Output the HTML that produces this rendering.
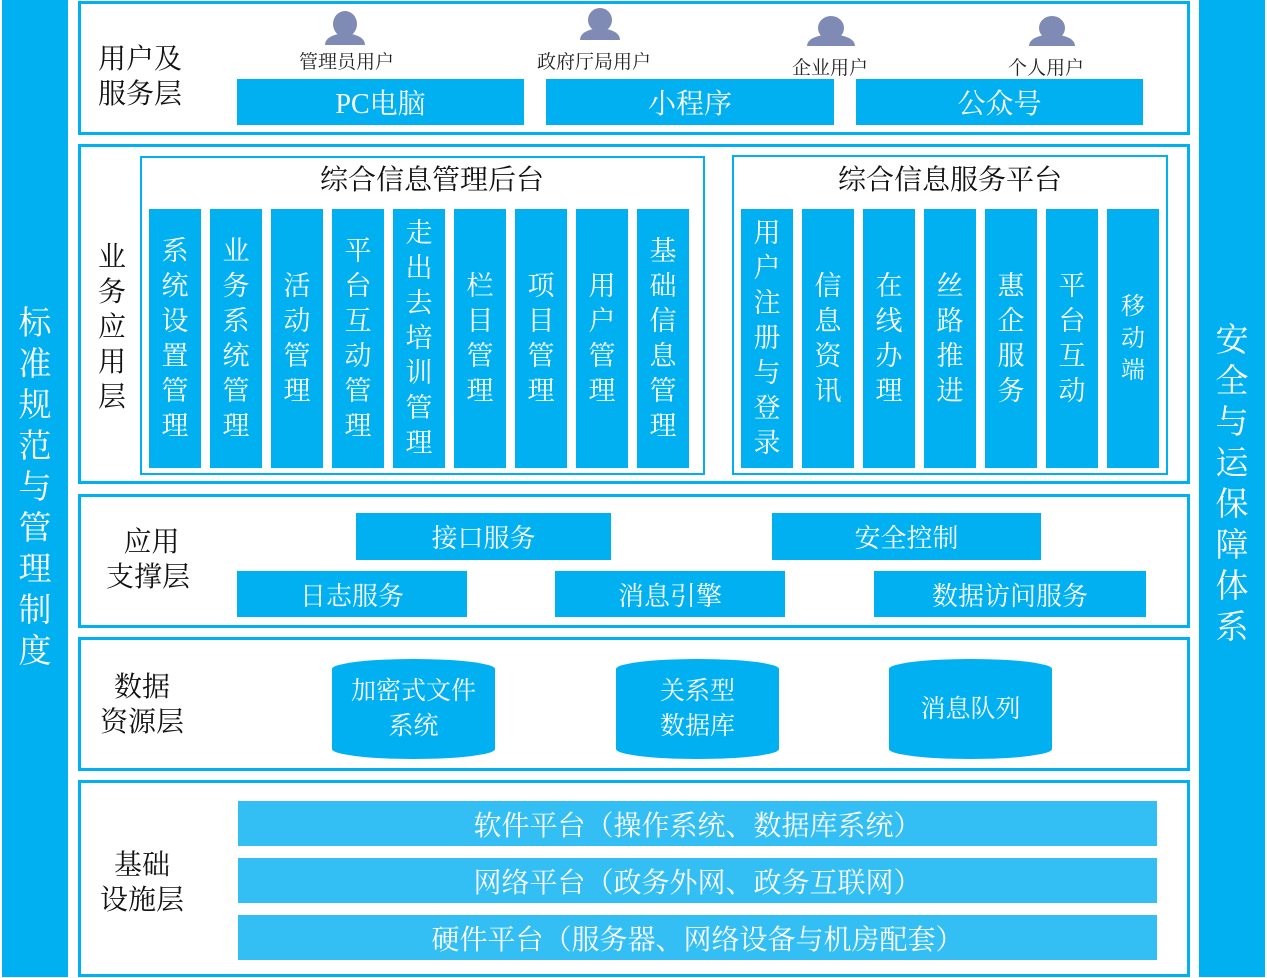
<!DOCTYPE html>
<html><head><meta charset="utf-8"><style>
*{margin:0;padding:0;box-sizing:border-box}
body{width:1267px;height:978px;background:#fff;position:relative;overflow:hidden;font-family:"Liberation Serif","Noto Serif CJK SC",serif;color:#111}
.a{position:absolute}
.b{position:absolute;background:#00B0F0;color:#fff;display:flex;align-items:center;justify-content:center;text-align:center}
.side{position:absolute;background:#00B0F0;color:#fff;display:flex;align-items:center;justify-content:center;text-align:center;font-size:33px;line-height:41px;padding:0 16px;word-break:break-all}
.fr{position:absolute;border:3px solid #00B0F0}
.fr2{position:absolute;border:2px solid #00B0F0}
.col{position:absolute;background:#00B0F0;color:#fff;display:flex;align-items:center;justify-content:center;font-size:27px;line-height:35px;width:52px;text-align:center;word-break:break-all;padding:0 12px}
.lbl{position:absolute;font-size:27px;line-height:35px}
.bar{position:absolute;background:#33BFF3;color:#fff;font-size:28px;display:flex;align-items:center;justify-content:center;left:238px;width:919px;height:45px}
.cyl{position:absolute;width:163px;height:100px;background:#00B0F0;border-radius:81px/10px;color:#fff;font-size:25px;line-height:35px;display:flex;align-items:center;justify-content:center;text-align:center}
.u{position:absolute;font-size:19px;color:#222}
</style></head><body>
<div class="side" style="left:2px;top:0;width:66px;height:977px">标准规范与管理制度</div>
<div class="side" style="left:1199px;top:0;width:66px;height:977px;padding-bottom:8px">安全与运保障体系</div>

<div class="fr" style="left:78px;top:1px;width:1112px;height:134px"></div>
<div class="lbl" style="left:98px;top:42px;font-size:28px">用户及<br>服务层</div>
<svg class="a" style="left:0;top:0" width="1267" height="50">
<g fill="#7f8bb5"><path d="M325 45 q0-10 20-12 q20 2 20 12z"/><ellipse cx="345" cy="24" rx="12" ry="13"/></g>
<g fill="#7f8bb5"><path d="M580 40 q0-10 20-12 q20 2 20 12z"/><ellipse cx="600" cy="20" rx="12" ry="12"/></g>
<g fill="#7f8bb5"><path d="M807 46 q0-10 24-12 q24 2 24 12z"/><ellipse cx="831" cy="28" rx="13" ry="12"/></g>
<g fill="#7f8bb5"><path d="M1029 46 q0-10 23-12 q23 2 23 12z"/><ellipse cx="1052" cy="28" rx="13" ry="12"/></g>
</svg>
<div class="u" style="left:299px;top:47px">管理员用户</div>
<div class="u" style="left:537px;top:47px">政府厅局用户</div>
<div class="u" style="left:792px;top:53px">企业用户</div>
<div class="u" style="left:1008px;top:53px">个人用户</div>
<div class="b" style="left:237px;top:79px;width:287px;height:46px;font-size:28px">PC电脑</div>
<div class="b" style="left:546px;top:79px;width:288px;height:46px;font-size:28px">小程序</div>
<div class="b" style="left:856px;top:79px;width:287px;height:46px;font-size:28px">公众号</div>

<div class="fr" style="left:78px;top:144px;width:1112px;height:340px"></div>
<div class="lbl" style="left:98px;top:240px;width:30px;font-size:28px">业务应用层</div>
<div class="fr2" style="left:140px;top:156px;width:565px;height:319px"></div>
<div class="a" style="left:140px;top:158px;width:592px;text-align:left;padding-left:180px;font-size:28px">综合信息管理后台</div>
<div class="fr2" style="left:732px;top:155px;width:436px;height:320px"></div>
<div class="a" style="left:732px;top:158px;width:436px;text-align:center;font-size:28px">综合信息服务平台</div>
<div class="col" style="left:149px;top:209px;height:259px">系统设置管理</div>
<div class="col" style="left:210px;top:209px;height:259px">业务系统管理</div>
<div class="col" style="left:271px;top:209px;height:259px">活动管理</div>
<div class="col" style="left:332px;top:209px;height:259px">平台互动管理</div>
<div class="col" style="left:393px;top:209px;height:259px">走出去培训管理</div>
<div class="col" style="left:454px;top:209px;height:259px">栏目管理</div>
<div class="col" style="left:515px;top:209px;height:259px">项目管理</div>
<div class="col" style="left:576px;top:209px;height:259px">用户管理</div>
<div class="col" style="left:637px;top:209px;height:259px">基础信息管理</div>
<div class="col" style="left:741px;top:209px;height:259px">用户注册与登录</div>
<div class="col" style="left:802px;top:209px;height:259px">信息资讯</div>
<div class="col" style="left:863px;top:209px;height:259px">在线办理</div>
<div class="col" style="left:924px;top:209px;height:259px">丝路推进</div>
<div class="col" style="left:985px;top:209px;height:259px">惠企服务</div>
<div class="col" style="left:1046px;top:209px;height:259px">平台互动</div>
<div class="col" style="left:1107px;top:209px;height:259px;font-size:24px;line-height:32px">移动端</div>

<div class="fr" style="left:78px;top:494px;width:1112px;height:134px"></div>
<div class="lbl" style="left:106px;top:525px;font-size:28px;text-align:center">&nbsp;应用<br>支撑层</div>
<div class="b" style="left:356px;top:513px;width:255px;height:47px;font-size:26px">接口服务</div>
<div class="b" style="left:772px;top:513px;width:269px;height:47px;font-size:26px">安全控制</div>
<div class="b" style="left:237px;top:571px;width:230px;height:46px;font-size:26px">日志服务</div>
<div class="b" style="left:555px;top:571px;width:230px;height:46px;font-size:26px">消息引擎</div>
<div class="b" style="left:874px;top:571px;width:272px;height:46px;font-size:26px">数据访问服务</div>

<div class="fr" style="left:78px;top:637px;width:1112px;height:134px"></div>
<div class="lbl" style="left:100px;top:670px;font-size:28px;text-align:center">数据<br>资源层</div>
<div class="cyl" style="left:332px;top:659px">加密式文件<br>系统</div>
<div class="cyl" style="left:616px;top:659px">关系型<br>数据库</div>
<div class="cyl" style="left:889px;top:659px">消息队列</div>

<div class="fr" style="left:78px;top:780px;width:1112px;height:197px"></div>
<div class="lbl" style="left:100px;top:848px;font-size:28px;text-align:center">基础<br>设施层</div>
<div class="bar" style="top:801px">软件平台（操作系统、数据库系统）</div>
<div class="bar" style="top:858px">网络平台（政务外网、政务互联网）</div>
<div class="bar" style="top:915px">硬件平台（服务器、网络设备与机房配套）</div>
</body></html>
